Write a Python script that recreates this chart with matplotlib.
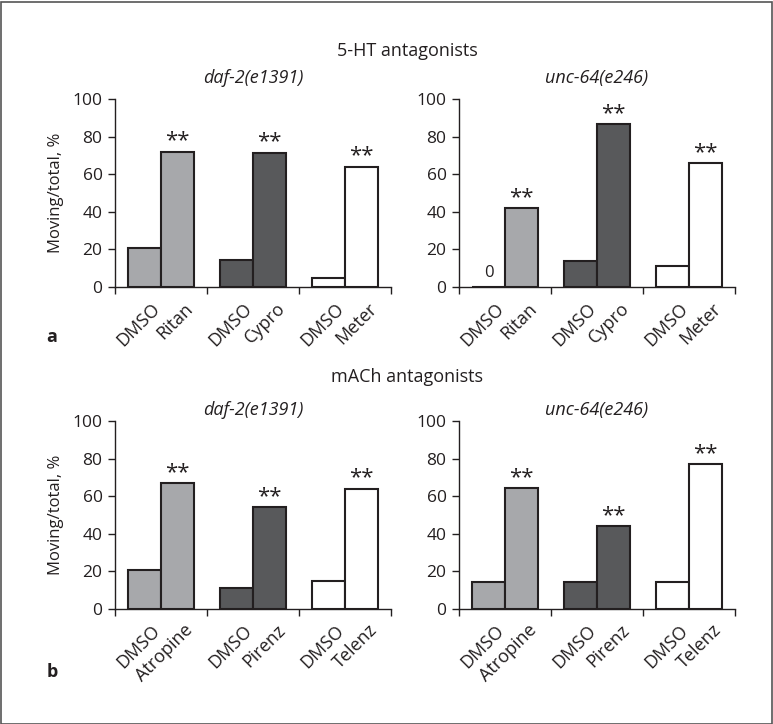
import numpy as np
import matplotlib
matplotlib.use('Agg')
import matplotlib.pyplot as plt
from matplotlib.patches import Rectangle

plt.rcParams['font.family'] = ['Open Sans', 'DejaVu Sans']

# data
groups_a = ['Ritan', 'Cypro', 'Meter']
groups_b = ['Atropine', 'Pirenz', 'Telenz']
daf_a_dmso = [21, 14.5, 5]
daf_a_drug = [72, 71.5, 64]
unc_a_dmso = [0, 14, 11]
unc_a_drug = [42, 86.5, 66]
daf_b_dmso = [20.5, 11, 15]
daf_b_drug = [67, 54, 64]
unc_b_dmso = [14.5, 14.5, 14.5]
unc_b_drug = [64.5, 44, 77]

colors = ['#a7a8ab', '#58595b', '#ffffff']
edge = '#231f20'
W, H = 773, 724
G = 92 / 33.0  # group width in bar units


def panel(rect, groups, dmso, drug):
    ax = fig.add_axes(rect)
    for i, g in enumerate(groups):
        x0 = i * G + (G - 2) / 2.0
        ax.bar([x0 + 0.5, x0 + 1.5], [dmso[i], drug[i]], width=1.0,
               color=colors[i], edgecolor=edge, linewidth=1.5, zorder=3)
        ax.annotate('**', (x0 + 1.5, drug[i]), xytext=(0, 0), textcoords='offset points',
                    ha='center', va='bottom', fontsize=16, color='#231f20')
        if dmso[i] == 0:
            ax.annotate('0', (x0 + 0.5, 0), xytext=(0, 4), textcoords='offset points',
                        ha='center', va='bottom', fontsize=12, color='#231f20')
        for xx, lab in [(x0 + 0.5, 'DMSO'), (x0 + 1.5, g)]:
            ax.text(xx + 0.2, -6.5, lab, rotation=45, rotation_mode='anchor',
                    ha='right', va='top', fontsize=13, color='#231f20')
    ax.set_xlim(0, 3 * G)
    ax.set_ylim(0, 100)
    ax.set_xticks([0, G, 2 * G, 3 * G])
    ax.set_xticklabels([])
    ax.set_yticks([0, 20, 40, 60, 80, 100])
    ax.tick_params(axis='both', direction='out', length=5, width=1, color=edge,
                   labelsize=12.5, labelcolor='#231f20', pad=4)
    for s in ['top', 'right']:
        ax.spines[s].set_visible(False)
    for s in ['left', 'bottom']:
        ax.spines[s].set_color(edge)
        ax.spines[s].set_linewidth(1)
    ax.patch.set_alpha(0)
    return ax


fig = plt.figure(figsize=(W / 100.0, H / 100.0), dpi=100)

aw = 276.0 / W
ah = 188.0 / H
lx = 115.0 / W
rx = 459.0 / W
by_a = 1 - 287.0 / H
by_b = 1 - 609.0 / H

ax1 = panel([lx, by_a, aw, ah], groups_a, daf_a_dmso, daf_a_drug)
ax2 = panel([rx, by_a, aw, ah], groups_a, unc_a_dmso, unc_a_drug)
ax3 = panel([lx, by_b, aw, ah], groups_b, daf_b_dmso, daf_b_drug)
ax4 = panel([rx, by_b, aw, ah], groups_b, unc_b_dmso, unc_b_drug)

ax1.set_ylabel('Moving/total, %', fontsize=12, color='#231f20', labelpad=6)
ax3.set_ylabel('Moving/total, %', fontsize=12, color='#231f20', labelpad=6)

# titles
fig.text(407.0 / W, 1 - 51.0 / H, '5-HT antagonists', ha='center', va='center',
         fontsize=13, color='#231f20')
fig.text(407.0 / W, 1 - 377.0 / H, 'mACh antagonists', ha='center', va='center',
         fontsize=13, color='#231f20')
fig.text(253.0 / W, 1 - 78.0 / H, 'daf-2(e1391)', ha='center', va='center',
         fontsize=13, style='italic', color='#231f20')
fig.text(597.0 / W, 1 - 78.0 / H, 'unc-64(e246)', ha='center', va='center',
         fontsize=13, style='italic', color='#231f20')
fig.text(253.0 / W, 1 - 410.0 / H, 'daf-2(e1391)', ha='center', va='center',
         fontsize=13, style='italic', color='#231f20')
fig.text(597.0 / W, 1 - 410.0 / H, 'unc-64(e246)', ha='center', va='center',
         fontsize=13, style='italic', color='#231f20')

fig.text(52.0 / W, 1 - 337.0 / H, 'a', ha='center', va='center',
         fontsize=13, fontweight='bold', color='#231f20')
fig.text(52.0 / W, 1 - 672.0 / H, 'b', ha='center', va='center',
         fontsize=13, fontweight='bold', color='#231f20')

# outer frame
fig.patches.append(Rectangle((0.5 / W, 0.5 / H), 1 - 2.0 / W, 1 - 2.0 / H,
                             transform=fig.transFigure, fill=False,
                             edgecolor='#555555', linewidth=1.2))

fig.savefig('out.png', dpi=100)
